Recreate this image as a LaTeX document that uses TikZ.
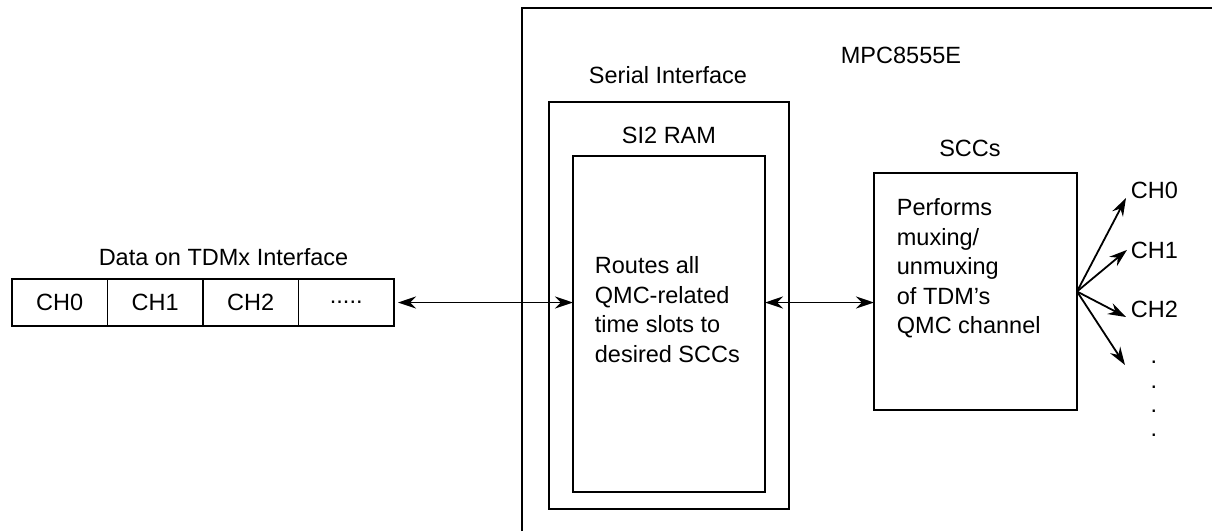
\documentclass[tikz,border=0pt]{standalone}
\usepackage{fontspec}
\setmainfont{Liberation Sans}
\usetikzlibrary{arrows.meta,positioning}
\begin{document}
\begin{tikzpicture}[x=0.5pt, y=-0.5pt, line width=0.9pt,
  >={Stealth[length=9pt,width=6pt,inset=3pt]},
  every node/.style={font=\fontsize{11.75}{14.75}\selectfont},
  box/.style={draw, inner sep=0pt, outer sep=0pt},
  cell/.style={box, minimum width=47.75pt, minimum height=23.5pt},
  lbl/.style={inner sep=0pt, anchor=base},
  body/.style={inner sep=0pt, anchor=north west, align=left}]
  \useasboundingbox (0,0) rectangle (1212,531);

  % MPC8555E (runs off the page)
  \draw (522,531) -- (522,8) -- (1212,8);
  \node[lbl, anchor=base west] (mpc) at (840,63) {MPC8555E};

  % data on TDMx
  \node[cell] (c0) at (59.75,302.5) {CH0};
  \node[cell, right=0pt of c0] (c1) {CH1};
  \node[cell, right=0pt of c1] (c2) {CH2};
  \node[cell, right=0pt of c2] (c3) {.....};
  \node[lbl] (tdmx) at (223.5,265) {Data on TDMx Interface};

  % serial interface
  \node[box, minimum width=120pt, minimum height=203.5pt] (si) at (669,305.5) {};
  \node[lbl] (silbl) at (668,83) {Serial Interface};
  \node[box, minimum width=96pt, minimum height=168pt] (ram) at (669,324) {};
  \node[lbl] (ramlbl) at (669,143) {SI2 RAM};
  \node[body] (route) at (594,256) {Routes all\\QMC-related\\time slots to\\desired SCCs};

  % SCCs
  \node[box, minimum width=101.5pt, minimum height=118.5pt] (sccs) at (975.5,291.5) {};
  \node[lbl] (sccslbl) at (970,156) {SCCs};
  \node[body] (mux) at (896,198) {Performs\\muxing/\\unmuxing\\of TDM’s\\QMC channel};

  % links
  \draw[<->] ([xshift=2pt]c3.east) -- (c3.east -| ram.west);
  \draw[<->] (c3.east -| ram.east) -- (c3.east -| sccs.west);

  % channels out
  \node[lbl, anchor=base west] (o0) at (1130,198) {CH0};
  \node[lbl, anchor=base west] (o1) at (1130,258) {CH1};
  \node[lbl, anchor=base west] (o2) at (1130,317) {CH2};
  \node[inner sep=0pt, anchor=north, align=center,
    font=\fontsize{11.75}{12.15}\selectfont] (more) at (1154,360.5) {.\\.\\.\\.};
  \coordinate (tip) at (1125,365);
  \draw[->] (sccs.east) -- ([xshift=-2pt]o0.base west);
  \draw[->] (sccs.east) -- ([xshift=-1.5pt]o1.west);
  \draw[->] (sccs.east) -- ([xshift=-2pt]o2.base west);
  \draw[->] (sccs.east) -- (tip);
\end{tikzpicture}
\end{document}
